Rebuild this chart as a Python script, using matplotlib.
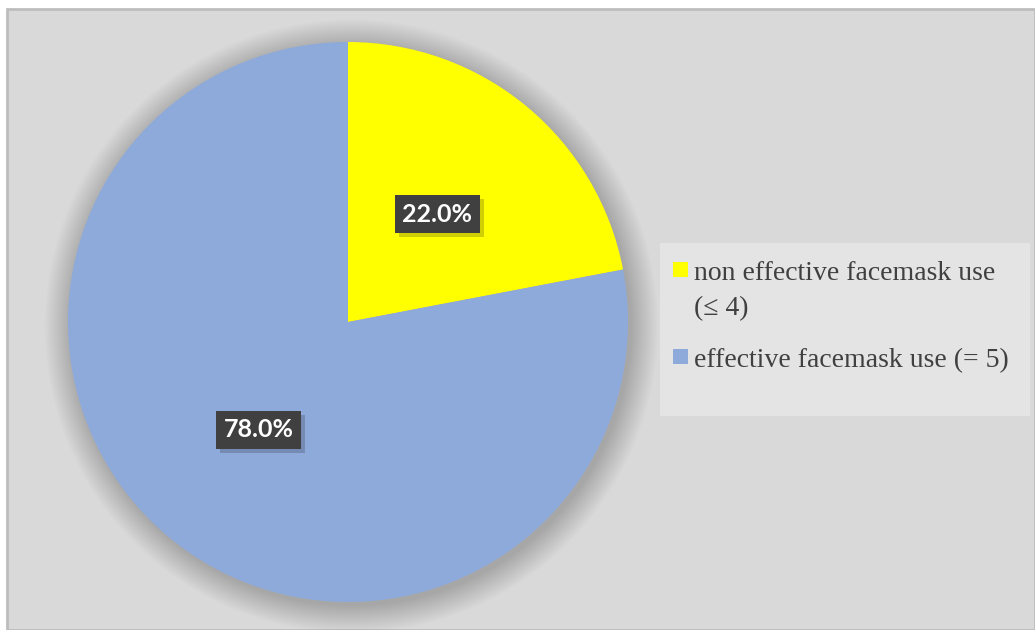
import matplotlib.pyplot as plt
import matplotlib.patches as mpatches
import matplotlib.patheffects as pe

labels = ["non effective facemask use\n(≤ 4)", "effective facemask use (= 5)"]
shares = [22.0, 78.0]
colors = ["#ffff00", "#8eaadb"]

W, H = 1035, 630
fig = plt.figure(figsize=(W / 100, H / 100), dpi=100)
fig.patch.set_facecolor("white")

# grey chart area with thin border on top/left
fig.patches.append(mpatches.Rectangle((7 / W, 0), 1 - 7 / W, 1 - 9 / H, transform=fig.transFigure,
                                      facecolor="#d9d9d9", edgecolor="#bdbdbd", linewidth=2, zorder=-2))

# pie axes: centre (348, 322), radius 280 px
cx, cy, r = 348, 322, 280
ax = fig.add_axes([(cx - r) / W, (H - cy - r) / H, 2 * r / W, 2 * r / H])

# soft, wide shadow behind the pie
for i in range(25):
    ax.add_patch(mpatches.Circle((0.012, -0.015), 1.0 + 0.004 * i, color="black",
                                 alpha=0.006, zorder=0, linewidth=0, clip_on=False))

wedges, texts, autotexts = ax.pie(shares, colors=colors, startangle=90, counterclock=False,
                                  radius=1, autopct="%.1f%%", pctdistance=0.5,
                                  wedgeprops=dict(linewidth=0))
ax.set_xlim(-1, 1)
ax.set_ylim(-1, 1)
ax.set_aspect("equal")
ax.axis("off")

for t in autotexts:
    t.set_fontfamily(["Lato", "DejaVu Sans"])
    t.set_fontweight("bold")
    t.set_fontsize(18)
    t.set_color("white")
    t.set_bbox(dict(boxstyle="square,pad=0.3", facecolor="#404040", edgecolor="none"))
    t.get_bbox_patch().set_path_effects([pe.SimplePatchShadow(offset=(3, -3), alpha=0.2), pe.Normal()])
    t.set_zorder(5)

# legend
fig.patches.append(mpatches.Rectangle((660 / W, 1 - 416 / H), 370 / W, 173 / H, transform=fig.transFigure,
                                      facecolor="#e4e4e4", edgecolor="none", zorder=1))
sq_y = [270, 357]
base_y = [[280, 315], [367]]
for lab, col, sy, bys in zip(labels, colors, sq_y, base_y):
    fig.patches.append(mpatches.Rectangle((673 / W, 1 - (sy + 7) / H), 15 / W, 15 / H,
                                          transform=fig.transFigure, facecolor=col,
                                          edgecolor="none", zorder=2))
    for line, by in zip(lab.split("\n"), bys):
        fig.text(694 / W, 1 - by / H, line, ha="left", va="baseline", fontsize=20,
                 family=["Liberation Serif", "DejaVu Serif"], color="#404040", zorder=3)

fig.savefig("out.png", dpi=100)
